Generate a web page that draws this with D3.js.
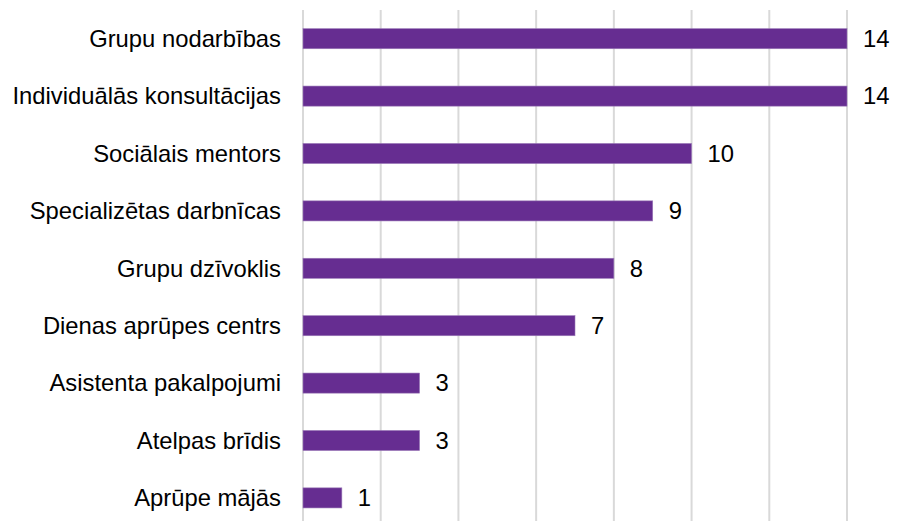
<!DOCTYPE html>
<html><head><meta charset="utf-8">
<script src="https://cdn.jsdelivr.net/npm/d3@7"></script>
<style>body{margin:0;background:#fff}svg{display:block}</style>
</head><body>
<script>
const categories = ["Grupu nodarbības","Individuālās konsultācijas","Sociālais mentors","Specializētas darbnīcas","Grupu dzīvoklis","Dienas aprūpes centrs","Asistenta pakalpojumi","Atelpas brīdis","Aprūpe mājās"];
const values = [14,14,10,9,8,7,3,3,1];
const ticks = [0,2,4,6,8,10,12,14];

const W=912,H=521;
const svg=d3.select("body").append("svg").attr("width",W).attr("height",H);
const x=d3.scaleLinear().domain([0,14]).range([303,847]);
const y=d3.scaleBand().domain(categories).range([10,526.6]).paddingInner(0.65).paddingOuter(0.325);
const FONT="Liberation Sans, Arial, sans-serif";

svg.append("g").selectAll("line").data(ticks).join("line")
  .attr("x1",d=>x(d)).attr("x2",d=>x(d)).attr("y1",10).attr("y2",H)
  .attr("stroke","#d9d9d9").attr("stroke-width",2);

svg.append("g").selectAll("rect").data(values).join("rect")
  .attr("x",x(0)).attr("y",(d,i)=>y(categories[i]))
  .attr("width",d=>x(d)-x(0)).attr("height",y.bandwidth())
  .attr("fill","#662d91").attr("stroke","#9b7ab8").attr("stroke-width",0.6);

svg.append("g").selectAll("text").data(categories).join("text")
  .attr("x",281).attr("y",d=>y(d)+y.bandwidth()/2).attr("dy","0.35em")
  .attr("text-anchor","end").attr("font-family",FONT)
  .attr("font-size",23.8).attr("fill","#000").text(d=>d);

svg.append("g").selectAll("text").data(values).join("text")
  .attr("x",d=>x(d)+16).attr("y",(d,i)=>y(categories[i])+y.bandwidth()/2).attr("dy","0.35em")
  .attr("font-family",FONT)
  .attr("font-size",23.8).attr("fill","#000").text(d=>d);
</script>
</body></html>
